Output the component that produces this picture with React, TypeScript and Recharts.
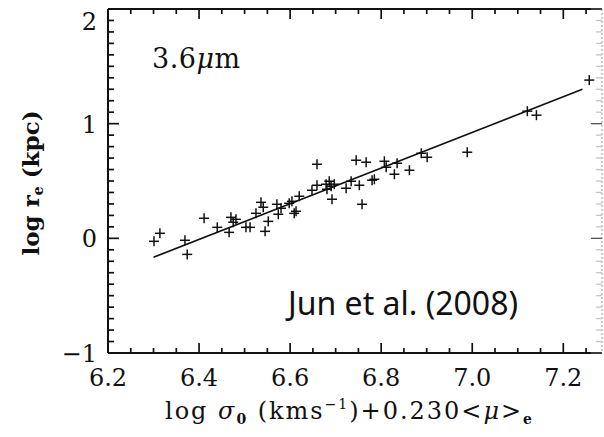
import { ScatterChart, Scatter, XAxis, YAxis } from "recharts"

// log sigma_0 + 0.230<mu>_e  (x) and log r_e (y)
const logSigma = [
  6.301, 6.314, 6.369, 6.374, 6.411, 6.44, 6.466, 6.47, 6.481, 6.475,
  6.503, 6.512, 6.525, 6.536, 6.541, 6.545, 6.552, 6.571, 6.574, 6.58,
  6.598, 6.604, 6.609, 6.613, 6.62, 6.648, 6.659, 6.659, 6.679, 6.686,
  6.69, 6.681, 6.692, 6.697, 6.723, 6.734, 6.752, 6.758, 6.745, 6.767,
  6.78, 6.785, 6.807, 6.811, 6.829, 6.835, 6.862, 6.888, 6.901, 6.989,
  7.121, 7.141, 7.257,
]
const logRe = [
  -0.026, 0.044, -0.017, -0.14, 0.175, 0.096, 0.052, 0.183, 0.166, 0.14,
  0.096, 0.096, 0.218, 0.314, 0.271, 0.061, 0.148, 0.297, 0.21, 0.262,
  0.306, 0.323, 0.218, 0.236, 0.367, 0.419, 0.646, 0.463, 0.472, 0.498,
  0.454, 0.428, 0.341, 0.472, 0.437, 0.498, 0.463, 0.297, 0.681, 0.664,
  0.507, 0.515, 0.672, 0.62, 0.559, 0.655, 0.594, 0.742, 0.707, 0.751,
  1.109, 1.074, 1.38,
]

// fitted relation, end points
const fitX = [6.3, 7.242]
const fitY = [-0.165, 1.3]

const xMajor = [6.2, 6.4, 6.6, 6.8, 7.0, 7.2]
const yMajor = [-1, 0, 1, 2]
const xMinor = [
  6.2, 6.25, 6.3, 6.35, 6.4, 6.45, 6.5, 6.55, 6.6, 6.65, 6.7, 6.75, 6.8,
  6.85, 6.9, 6.95, 7.0, 7.05, 7.1, 7.15, 7.2, 7.25,
]
const yMinor = [
  -1, -0.9, -0.8, -0.7, -0.6, -0.5, -0.4, -0.3, -0.2, -0.1, 0, 0.1, 0.2, 0.3,
  0.4, 0.5, 0.6, 0.7, 0.8, 0.9, 1, 1.1, 1.2, 1.3, 1.4, 1.5, 1.6, 1.7, 1.8,
  1.9, 2,
]

const X_DOMAIN = [6.2, 7.285]
const Y_DOMAIN = [-1, 2]

const points = logSigma.map((x, i) => ({ x, y: logRe[i] }))
const fitLine = fitX.map((x, i) => ({ x, y: fitY[i] }))

const W = 604
const H = 437
const INK = "#111"
const SERIF = "'DejaVu Serif', 'Liberation Serif', serif"

// plot box, follows from the axis sizes given to the chart below
const BOX = { left: 108, right: 602, top: 9, bottom: 353 }
const px = (v: number) =>
  BOX.left + ((v - X_DOMAIN[0]) / (X_DOMAIN[1] - X_DOMAIN[0])) * (BOX.right - BOX.left)
const py = (v: number) =>
  BOX.bottom - ((v - Y_DOMAIN[0]) / (Y_DOMAIN[1] - Y_DOMAIN[0])) * (BOX.bottom - BOX.top)

const isMajor = (list: number[], v: number) => list.some((t) => Math.abs(t - v) < 1e-6)

function Cross(props: any) {
  const { cx, cy } = props
  if (cx == null || cy == null) return <g />
  return (
    <g stroke={INK} strokeWidth={1.5}>
      <line x1={cx - 5} x2={cx + 5} y1={cy} y2={cy} />
      <line x1={cx} x2={cx} y1={cy - 5} y2={cy + 5} />
    </g>
  )
}

const NoShape = () => <g />

function bottomTick(p: any) {
  const { x, y, payload } = p
  if (!isMajor(xMajor, payload.value)) return <g />
  return (
    <text x={x} y={y + 33} textAnchor="middle" fontFamily={SERIF} fontSize={24} fill={INK}>
      {payload.value.toFixed(1)}
    </text>
  )
}

function leftTick(p: any) {
  const { x, y, payload } = p
  const v = payload.value
  if (!isMajor(yMajor, v)) return <g />
  const label = v < 0 ? "\u2212" + Math.abs(v) : String(v)
  return (
    <text
      x={x - 11}
      y={y + (v === 2 ? 21 : 9)}
      textAnchor="end"
      fontFamily={SERIF}
      fontSize={24}
      fill={INK}
    >
      {label}
    </text>
  )
}

// inward tick marks on the four sides, laid over the chart
function FrameTicks() {
  return (
    <svg
      width={W}
      height={H}
      style={{ position: "absolute", left: 0, top: 0, pointerEvents: "none" }}
    >
      {xMinor.map((v) => {
        const len = isMajor(xMajor, v) ? 10 : 5
        const x = px(v)
        return (
          <g key={"x" + v} stroke={INK} strokeWidth={1.7}>
            <line x1={x} x2={x} y1={BOX.bottom} y2={BOX.bottom - len} />
            <line x1={x} x2={x} y1={BOX.top} y2={BOX.top + len} />
          </g>
        )
      })}
      {yMinor.map((v) => {
        const major = isMajor(yMajor, v)
        const len = major ? 11 : 6
        const y = py(v)
        return (
          <g key={"y" + v}>
            <line x1={BOX.left} x2={BOX.left + len} y1={y} y2={y} stroke={INK} strokeWidth={1.7} />
            <line
              x1={BOX.right}
              x2={BOX.right - len}
              y1={y}
              y2={y}
              stroke={major ? "#555" : "#c4c4c4"}
              strokeWidth={1.3}
            />
          </g>
        )
      })}
    </svg>
  )
}

export default function App() {
  return (
    <div style={{ position: "absolute", left: 0, top: 0, width: W, height: H, background: "#fff" }}>
      <ScatterChart width={W} height={H} margin={{ top: 0, right: 0, bottom: 0, left: 0 }}>
        <XAxis
          type="number"
          dataKey="x"
          domain={X_DOMAIN}
          ticks={xMinor}
          interval={0}
          tickSize={0}
          tickMargin={0}
          height={84}
          tick={bottomTick}
          axisLine={{ stroke: INK, strokeWidth: 2 }}
          tickLine={false}
        />
        <XAxis
          xAxisId="top"
          orientation="top"
          type="number"
          dataKey="x"
          domain={X_DOMAIN}
          height={9}
          tick={false}
          axisLine={{ stroke: INK, strokeWidth: 2 }}
          tickLine={false}
        />
        <YAxis
          type="number"
          dataKey="y"
          domain={Y_DOMAIN}
          ticks={yMinor}
          interval={0}
          tickSize={0}
          tickMargin={0}
          width={108}
          tick={leftTick}
          axisLine={{ stroke: INK, strokeWidth: 2 }}
          tickLine={false}
        />
        <YAxis
          yAxisId="right"
          orientation="right"
          type="number"
          dataKey="y"
          domain={Y_DOMAIN}
          width={2}
          tick={false}
          axisLine={{ stroke: "#aaa", strokeWidth: 1.2, strokeDasharray: "2 2" }}
          tickLine={false}
        />
        <Scatter
          data={fitLine}
          xAxisId="top"
          yAxisId="right"
          line={{ stroke: INK, strokeWidth: 1.7 }}
          shape={<NoShape />}
          isAnimationActive={false}
        />
        <Scatter data={points} shape={<Cross />} isAnimationActive={false} />

        <text x={152} y={68} fontFamily={SERIF} fontSize={27} fill={INK} letterSpacing={0.5}>
          3.6<tspan fontStyle="italic">μ</tspan>m
        </text>
        <text x={288} y={315} fontFamily="'Noto Sans', sans-serif" fontSize={32} fill={INK}>
          Jun et al. (2008)
        </text>
        <text
          x={165}
          y={419}
          fontFamily={SERIF}
          fontSize={24}
          fill={INK}
          textLength={367}
          lengthAdjust="spacing"
        >
          log <tspan fontStyle="italic">σ</tspan>
          <tspan dy={5} fontSize={14} fontWeight="bold">0</tspan>
          <tspan dy={-5}> (kms</tspan>
          <tspan dy={-10} fontSize={14}>−1</tspan>
          <tspan dy={10}>)+0.230&lt;</tspan>
          <tspan fontStyle="italic">μ</tspan>
          <tspan>&gt;</tspan>
          <tspan dy={5} fontSize={14} fontWeight="bold">e</tspan>
        </text>
        <text
          transform="translate(39, 183) rotate(-90)"
          textAnchor="middle"
          fontFamily={SERIF}
          fontSize={23}
          fontWeight="bold"
          fill={INK}
        >
          log r<tspan dy={4} fontSize={14}>e</tspan>
          <tspan dy={-4}> (kpc)</tspan>
        </text>
      </ScatterChart>
      <FrameTicks />
    </div>
  )
}
